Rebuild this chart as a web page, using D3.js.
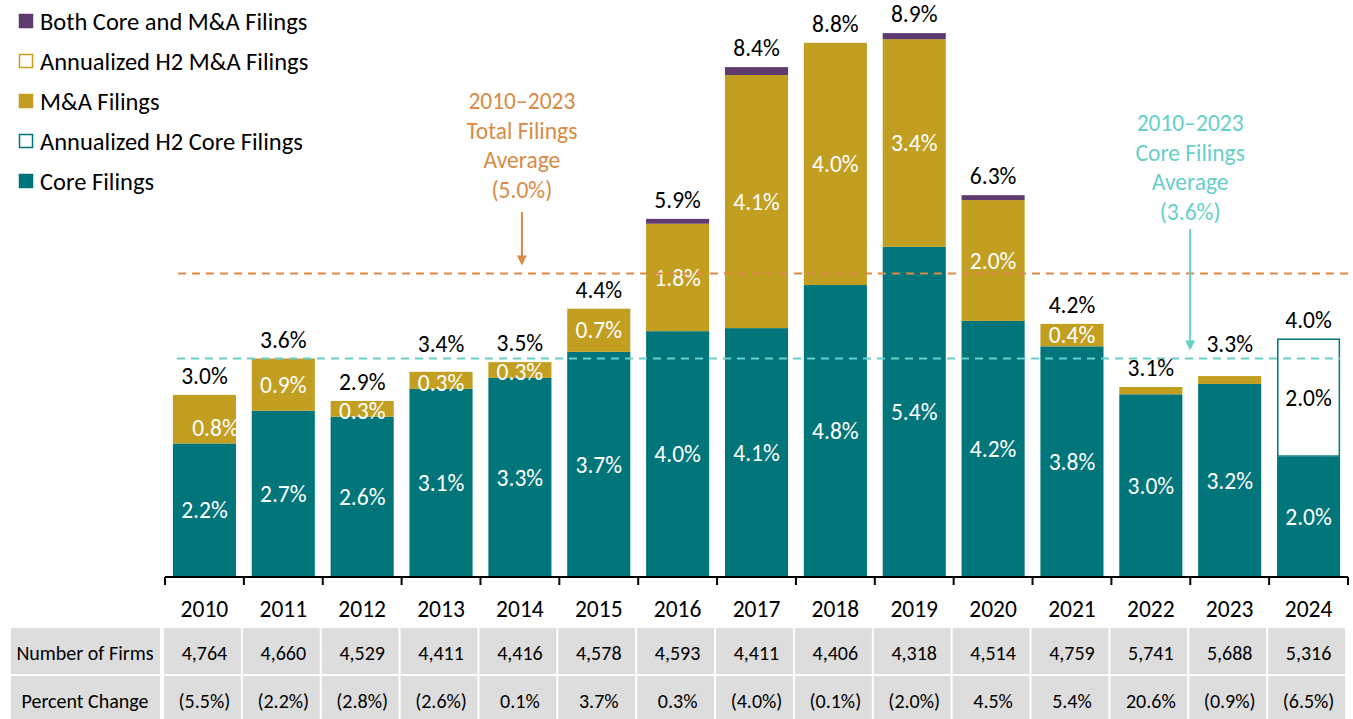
<!DOCTYPE html>
<html lang="en">
  <head>
    <meta charset="UTF-8" />
    <title>Filing Rates 2010–2024</title>
    <script src="https://d3js.org/d3.v7.min.js"></script>
    <style>
      body {
        margin: 0;
        background: white;
        font-family: Carlito, Lato, sans-serif;
      }
      svg {
        display: block;
      }
    </style>
  </head>
  <body>
    <svg width="1353" height="719"></svg>

    <script>
      const years = ['2010', '2011', '2012', '2013', '2014', '2015', '2016', '2017', '2018', '2019', '2020', '2021', '2022', '2023', '2024'];

      // filing rates (% of firms)
      const coreFilings = [2.2, 2.74, 2.64, 3.1, 3.28, 3.71, 4.05, 4.1, 4.81, 5.44, 4.22, 3.8, 3.01, 3.18, 1.98];
      const maFilings = [0.8, 0.86, 0.26, 0.28, 0.26, 0.71, 1.77, 4.17, 3.99, 3.42, 1.99, 0.37, 0.12, 0.13, 0];
      const bothFilings = [0, 0, 0, 0, 0, 0, 0.08, 0.13, 0, 0.1, 0.08, 0, 0, 0, 0];
      const annualizedCore = [0, 0, 0, 0, 0, 0, 0, 0, 0, 0, 0, 0, 0, 0, 1.95];
      const annualizedMA = [0, 0, 0, 0, 0, 0, 0, 0, 0, 0, 0, 0, 0, 0, 0];

      const coreLabels = ['2.2%', '2.7%', '2.6%', '3.1%', '3.3%', '3.7%', '4.0%', '4.1%', '4.8%', '5.4%', '4.2%', '3.8%', '3.0%', '3.2%', '2.0%'];
      const maLabels = ['0.8%', '0.9%', '0.3%', '0.3%', '0.3%', '0.7%', '1.8%', '4.1%', '4.0%', '3.4%', '2.0%', '0.4%', '', '', ''];
      const annualizedLabels = ['', '', '', '', '', '', '', '', '', '', '', '', '', '', '2.0%'];
      const totalLabels = ['3.0%', '3.6%', '2.9%', '3.4%', '3.5%', '4.4%', '5.9%', '8.4%', '8.8%', '8.9%', '6.3%', '4.2%', '3.1%', '3.3%', '4.0%'];

      const totalAverage = 5.0;
      const coreAverage = 3.6;

      const numberOfFirms = ['4,764', '4,660', '4,529', '4,411', '4,416', '4,578', '4,593', '4,411', '4,406', '4,318', '4,514', '4,759', '5,741', '5,688', '5,316'];
      const percentChange = ['(5.5%)', '(2.2%)', '(2.8%)', '(2.6%)', '0.1%', '3.7%', '0.3%', '(4.0%)', '(0.1%)', '(2.0%)', '4.5%', '5.4%', '20.6%', '(0.9%)', '(6.5%)'];

      const legendItems = [
        { name: 'Both Core and M&A Filings', fill: '#5E3A6E', stroke: '#5E3A6E' },
        { name: 'Annualized H2 M&A Filings', fill: '#fff', stroke: '#C29E21' },
        { name: 'M&A Filings', fill: '#C29E21', stroke: '#C29E21' },
        { name: 'Annualized H2 Core Filings', fill: '#fff', stroke: '#00757A' },
        { name: 'Core Filings', fill: '#00757A', stroke: '#00757A' },
      ];

      const svg = d3.select('svg');
      const fontSize = '23.5px';
      const tableFont = '20px';

      const baseline = 577;
      const x = d3.scaleBand().domain(years).range([165, 1348]).paddingInner(0.2).paddingOuter(0.1);
      const y = d3.scaleLinear().domain([0, 9]).range([baseline, baseline - 9 * 60.7]);

      const segments = [
        { key: 'core', values: coreFilings, fill: '#00757A', stroke: 'none', labels: coreLabels, color: '#fff' },
        { key: 'ma', values: maFilings, fill: '#C29E21', stroke: 'none', labels: maLabels, color: '#fff' },
        { key: 'both', values: bothFilings, fill: '#5E3A6E', stroke: 'none', labels: null },
        { key: 'annCore', values: annualizedCore, fill: '#fff', stroke: '#00757A', labels: annualizedLabels, color: '#000' },
        { key: 'annMA', values: annualizedMA, fill: '#fff', stroke: '#C29E21', labels: null },
      ];

      // stack the segments
      const rows = years.map((yr, i) => {
        let acc = 0;
        const parts = segments.map((s) => {
          const y0 = acc;
          acc += s.values[i];
          return { seg: s, year: yr, i, y0, y1: acc };
        });
        return { year: yr, i, parts, total: acc };
      });

      const bars = svg.append('g');
      rows.forEach((r) => {
        r.parts
          .filter((p) => p.y1 > p.y0)
          .forEach((p) => {
            const inset = p.seg.stroke === 'none' ? 0 : 0.75;
            bars
              .append('rect')
              .attr('x', x(r.year) + inset)
              .attr('y', y(p.y1) + inset)
              .attr('width', x.bandwidth() - inset * 2)
              .attr('height', y(p.y0) - y(p.y1) - inset * 2)
              .attr('fill', p.seg.fill)
              .attr('stroke', p.seg.stroke)
              .attr('stroke-width', 1.5);
          });
      });

      // segment labels
      rows.forEach((r) => {
        r.parts.forEach((p) => {
          if (!p.seg.labels || !p.seg.labels[r.i]) return;
          let cx = x(r.year) + x.bandwidth() / 2;
          let cy = (y(p.y0) + y(p.y1)) / 2;
          if (y(p.y0) - y(p.y1) < 20) cy += 2;
          if (p.seg.key === 'ma' && r.i === 0) {
            cx += 11;
            cy += 9;
          }
          svg
            .append('text')
            .attr('x', cx)
            .attr('y', cy)
            .attr('dy', '0.35em')
            .attr('text-anchor', 'middle')
            .attr('fill', p.seg.color)
            .style('font-size', fontSize)
            .text(p.seg.labels[r.i]);
        });
      });

      // average lines
      const avgLines = [
        { value: totalAverage, color: '#DA8A44', x0: 178, x1: 1348 },
        { value: coreAverage, color: '#66CFCB', x0: 177, x1: 1340 },
      ];
      avgLines.forEach((a) => {
        svg
          .append('line')
          .attr('x1', a.x0)
          .attr('x2', a.x1)
          .attr('y1', y(a.value))
          .attr('y2', y(a.value))
          .attr('stroke', a.color)
          .attr('stroke-width', 2)
          .attr('stroke-dasharray', '8,6');
      });

      // total labels, lifted above the core average line when they would sit on it
      const coreLineY = y(coreAverage);
      rows.forEach((r) => {
        const top = y(r.total);
        let cy = top - 19;
        if (cy > coreLineY - 10 && cy < coreLineY + 6) cy = coreLineY - 15;
        svg
          .append('text')
          .attr('x', x(r.year) + x.bandwidth() / 2)
          .attr('y', cy)
          .attr('dy', '0.35em')
          .attr('text-anchor', 'middle')
          .attr('fill', '#000')
          .style('font-size', fontSize)
          .text(totalLabels[r.i]);
      });

      // x axis
      const axisG = svg.append('g');
      const tickXs = years.map((yr) => x(yr) - x.step() * 0.1);
      tickXs.push(1348);
      axisG
        .append('line')
        .attr('x1', tickXs[0])
        .attr('x2', tickXs[tickXs.length - 1])
        .attr('y1', baseline)
        .attr('y2', baseline)
        .attr('stroke', '#000')
        .attr('stroke-width', 2);
      tickXs.forEach((tx) => {
        axisG
          .append('line')
          .attr('x1', tx)
          .attr('x2', tx)
          .attr('y1', baseline)
          .attr('y2', baseline + 8)
          .attr('stroke', '#000')
          .attr('stroke-width', 2);
      });
      years.forEach((yr) => {
        axisG
          .append('text')
          .attr('x', x(yr) + x.bandwidth() / 2)
          .attr('y', 609)
          .attr('dy', '0.35em')
          .attr('text-anchor', 'middle')
          .attr('fill', '#000')
          .style('font-size', fontSize)
          .text(yr);
      });

      // table
      const tableRows = [
        { label: 'Number of Firms', values: numberOfFirms, y0: 628, y1: 674, ty: 653 },
        { label: 'Percent Change', values: percentChange, y0: 676, y1: 722, ty: 701 },
      ];
      const table = svg.append('g');
      tableRows.forEach((tr) => {
        table
          .append('rect')
          .attr('x', 11)
          .attr('y', tr.y0)
          .attr('width', 149)
          .attr('height', tr.y1 - tr.y0)
          .attr('fill', '#DDDDDD');
        table
          .append('text')
          .attr('x', 85)
          .attr('y', tr.ty)
          .attr('dy', '0.35em')
          .attr('text-anchor', 'middle')
          .attr('fill', '#000')
          .style('font-size', tableFont)
          .text(tr.label);
        years.forEach((yr, i) => {
          table
            .append('rect')
            .attr('x', tickXs[i] - 1)
            .attr('y', tr.y0)
            .attr('width', tickXs[i + 1] - tickXs[i] - 2)
            .attr('height', tr.y1 - tr.y0)
            .attr('fill', '#DDDDDD');
          table
            .append('text')
            .attr('x', x(yr) + x.bandwidth() / 2)
            .attr('y', tr.ty)
            .attr('dy', '0.35em')
            .attr('text-anchor', 'middle')
            .attr('fill', '#000')
            .style('font-size', tableFont)
            .text(tr.values[i]);
        });
      });

      // annotations
      const notes = [
        {
          lines: ['2010–2023', 'Total Filings', 'Average', '(5.0%)'],
          color: '#DA8A44',
          cx: x('2014') + x.bandwidth() / 2 + 2,
          top: 101,
          arrowFrom: 212,
          value: totalAverage,
        },
        {
          lines: ['2010–2023', 'Core Filings', 'Average', '(3.6%)'],
          color: '#66CFCB',
          cx: x('2023') - 8,
          top: 123,
          arrowFrom: 229,
          value: coreAverage,
        },
      ];
      notes.forEach((n) => {
        n.lines.forEach((ln, k) => {
          svg
            .append('text')
            .attr('x', n.cx)
            .attr('y', n.top + k * 29.5)
            .attr('dy', '0.35em')
            .attr('text-anchor', 'middle')
            .attr('fill', n.color)
            .style('font-size', fontSize)
            .text(ln);
        });
        const tip = y(n.value) - 8;
        svg
          .append('line')
          .attr('x1', n.cx)
          .attr('x2', n.cx)
          .attr('y1', n.arrowFrom)
          .attr('y2', tip - 8)
          .attr('stroke', n.color)
          .attr('stroke-width', 2);
        svg
          .append('path')
          .attr('d', `M${n.cx - 5},${tip - 10}L${n.cx + 5},${tip - 10}L${n.cx},${tip}Z`)
          .attr('fill', n.color);
      });

      // legend
      const legend = svg.append('g');
      legendItems.forEach((d, k) => {
        const cy = 21 + k * 40;
        legend
          .append('rect')
          .attr('x', 19.5)
          .attr('y', cy - 6.5)
          .attr('width', 13)
          .attr('height', 13)
          .attr('fill', d.fill)
          .attr('stroke', d.stroke)
          .attr('stroke-width', 1.5);
        legend
          .append('text')
          .attr('x', 40)
          .attr('y', cy)
          .attr('dy', '0.35em')
          .attr('fill', '#000')
          .style('font-size', '24.5px')
          .text(d.name);
      });
    </script>
  </body>
</html>
